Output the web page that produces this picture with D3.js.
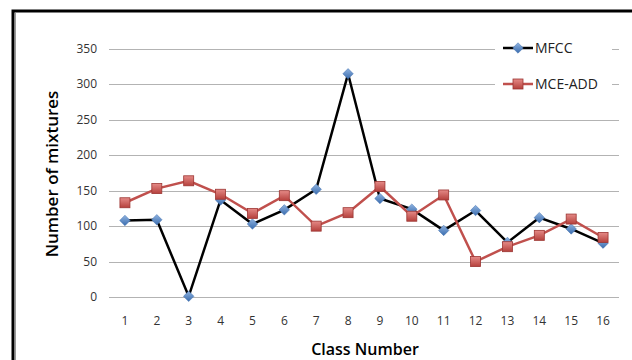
<!DOCTYPE html>
<html lang="en">
<head>
    <meta charset="UTF-8">
    <title>Mixtures</title>
    <style>
        body { margin: 0; background: #fff; }
    </style>
</head>
<body>
    <script src="https://cdn.jsdelivr.net/npm/d3@7"></script>
    <script>
        const classes = d3.range(1, 17);
        const mfcc = [108, 109, 1, 137, 103, 123, 152, 315, 139, 124, 94, 122, 77, 112, 96, 76];
        const mceAdd = [133, 153, 164, 145, 118, 143, 100, 119, 156, 114, 144, 50, 71, 87, 110, 84];
        const yTicks = [0, 50, 100, 150, 200, 250, 300, 350];

        const width = 632, height = 360;
        const plotLeft = 109, plotRight = 619, plotTop = 49, plotBottom = 297;
        const font = "'Open Sans', sans-serif";

        const svg = d3.select("body").append("svg")
            .attr("width", width)
            .attr("height", height);

        const defs = svg.append("defs");
        let g1 = defs.append("linearGradient").attr("id", "blueG").attr("x1", 0).attr("y1", 0).attr("x2", 0).attr("y2", 1);
        g1.append("stop").attr("offset", "0%").attr("stop-color", "#8fb3e0");
        g1.append("stop").attr("offset", "100%").attr("stop-color", "#3a6cae");
        let g2 = defs.append("linearGradient").attr("id", "redG").attr("x1", 0).attr("y1", 0).attr("x2", 0).attr("y2", 1);
        g2.append("stop").attr("offset", "0%").attr("stop-color", "#e58a87");
        g2.append("stop").attr("offset", "100%").attr("stop-color", "#b5403c");

        // frame
        svg.append("rect")
            .attr("x", 13).attr("y", 11)
            .attr("width", 640).attr("height", 380)
            .attr("fill", "none").attr("stroke", "#000").attr("stroke-width", 3);
        svg.append("line")
            .attr("x1", 15.5).attr("x2", 15.5).attr("y1", 13).attr("y2", 360)
            .attr("stroke", "#999").attr("stroke-width", 1);

        const x = d3.scaleBand().domain(classes).range([plotLeft, plotRight]);
        const y = d3.scaleLinear().domain([0, 350]).range([plotBottom, plotTop]);
        const cx = d => x(d) + x.bandwidth() / 2;

        // grid
        svg.append("g").selectAll("line")
            .data(yTicks).enter().append("line")
            .attr("x1", plotLeft).attr("x2", plotRight)
            .attr("y1", d => Math.round(y(d)) + 0.5).attr("y2", d => Math.round(y(d)) + 0.5)
            .attr("stroke", "#b3b3b3").attr("stroke-width", 1);

        // y tick labels
        svg.append("g").selectAll("text")
            .data(yTicks).enter().append("text")
            .attr("x", 97).attr("y", d => y(d) + 4)
            .attr("text-anchor", "end")
            .attr("font-family", font).attr("font-size", 12).attr("fill", "#333")
            .text(d => d);

        // x tick labels
        svg.append("g").selectAll("text")
            .data(classes).enter().append("text")
            .attr("x", cx).attr("y", 325)
            .attr("text-anchor", "middle")
            .attr("font-family", font).attr("font-size", 12).attr("fill", "#333")
            .text(d => d);

        // axis titles
        svg.append("text")
            .attr("x", 365).attr("y", 355)
            .attr("text-anchor", "middle")
            .attr("font-family", font).attr("font-size", 16).attr("font-weight", 600)
            .text("Class Number");
        svg.append("text")
            .attr("transform", "translate(58,174) rotate(-90)")
            .attr("text-anchor", "middle")
            .attr("font-family", font).attr("font-size", 17).attr("font-weight", 600)
            .text("Number of mixtures");

        const line = d3.line().x((d, i) => cx(classes[i])).y(d => y(d));
        const diamond = d3.symbol().type(d3.symbolDiamond2).size(70);

        svg.append("path").datum(mfcc)
            .attr("d", line).attr("fill", "none")
            .attr("stroke", "#000").attr("stroke-width", 2.5);
        svg.append("path").datum(mceAdd)
            .attr("d", line).attr("fill", "none")
            .attr("stroke", "#c0504d").attr("stroke-width", 2.5);

        svg.append("g").selectAll("path")
            .data(mfcc).enter().append("path")
            .attr("transform", (d, i) => `translate(${cx(classes[i])},${y(d)})`)
            .attr("d", diamond)
            .attr("fill", "url(#blueG)").attr("stroke", "#3f6fae").attr("stroke-width", 0.5);
        svg.append("g").selectAll("rect")
            .data(mceAdd).enter().append("rect")
            .attr("x", (d, i) => cx(classes[i]) - 5).attr("y", d => y(d) - 5)
            .attr("width", 10).attr("height", 10)
            .attr("fill", "url(#redG)").attr("stroke", "#9c3532").attr("stroke-width", 0.8);

        // legend
        const legend = svg.append("g");
        legend.append("rect")
            .attr("x", 495).attr("y", 34).attr("width", 117).attr("height", 64)
            .attr("fill", "#fff");
        const items = [
            { name: "MFCC", color: "#000", y: 48 },
            { name: "MCE-ADD", color: "#c0504d", y: 84 }
        ];
        items.forEach(it => {
            legend.append("line")
                .attr("x1", 503).attr("x2", 533).attr("y1", it.y).attr("y2", it.y)
                .attr("stroke", it.color).attr("stroke-width", 2.5);
            legend.append("text")
                .attr("x", 535).attr("y", it.y + 5)
                .attr("font-family", font).attr("font-size", 14).attr("fill", "#222")
                .text(it.name);
        });
        legend.append("path")
            .attr("transform", "translate(518,48)")
            .attr("d", diamond)
            .attr("fill", "url(#blueG)").attr("stroke", "#3f6fae").attr("stroke-width", 0.5);
        legend.append("rect")
            .attr("x", 513).attr("y", 79).attr("width", 10).attr("height", 10)
            .attr("fill", "url(#redG)").attr("stroke", "#9c3532").attr("stroke-width", 0.8);
    </script>
</body>
</html>
